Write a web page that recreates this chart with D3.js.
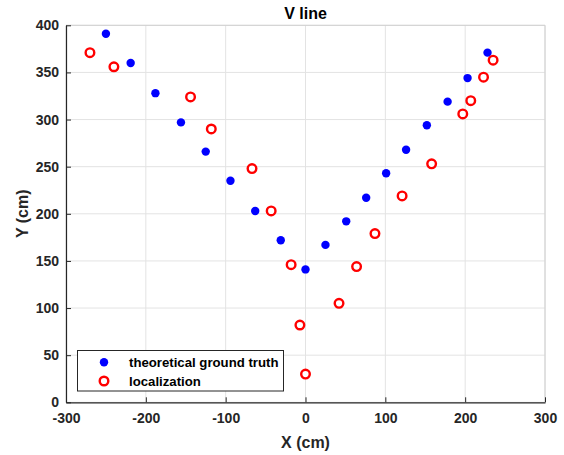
<!DOCTYPE html>
<html><head><meta charset="utf-8">
<script src="https://cdn.jsdelivr.net/npm/d3@7"></script>
<style>body{margin:0;background:#fff}svg{display:block}text{font-family:Arial,"Liberation Sans",Helvetica,sans-serif}</style>
</head><body><svg id="c" width="564" height="455"></svg>
<script>
const truthX = [-250,-219,-188,-156,-125,-94,-63,-31,0,25,51,76,101,126,152,178,203,228];
const truthY = [391,360,328,297,266,235,203,172,141,167,192,217,243,268,294,319,344,371];
const locX = [-270,-240,-144,-118,-67,-43,-18,-7,0,42,64,87,121,158,197,207,223,235];
const locY = [371,356,324,290,248,203,146,82,30,105,144,179,219,253,306,320,345,363];
const xTicks = [-300,-200,-100,0,100,200,300];
const yTicks = [0,50,100,150,200,250,300,350,400];
const seriesNames = ["theoretical ground truth","localization"];

const svg = d3.select("#c");
const L=66, R=545, T=25.3, B=402.3;
const x = d3.scaleLinear().domain([-300,300]).range([L,R]);
const y = d3.scaleLinear().domain([0,400]).range([B,T]);
const axisCol="#262626", gridCol="#e3e3e3";

// grid
svg.append("g").selectAll("line").data(xTicks).join("line")
  .attr("x1",d=>x(d)).attr("x2",d=>x(d)).attr("y1",T).attr("y2",B)
  .attr("stroke",gridCol).attr("stroke-width",1);
svg.append("g").selectAll("line").data(yTicks).join("line")
  .attr("x1",L).attr("x2",R).attr("y1",d=>y(d)).attr("y2",d=>y(d))
  .attr("stroke",gridCol).attr("stroke-width",1);
// top/right light box
svg.append("line").attr("x1",L).attr("x2",R).attr("y1",T).attr("y2",T).attr("stroke","#d0d0d0");
svg.append("line").attr("x1",R).attr("x2",R).attr("y1",T).attr("y2",B).attr("stroke","#d0d0d0");

// axes
const fmt = d => String(d);
const xAxis = svg.append("g").attr("transform",`translate(0,${B})`)
  .call(d3.axisBottom(x).tickValues(xTicks).tickFormat(fmt).tickSizeInner(-5).tickSizeOuter(0).tickPadding(11));
const yAxis = svg.append("g").attr("transform",`translate(${L},0)`)
  .call(d3.axisLeft(y).tickValues(yTicks).tickFormat(fmt).tickSizeInner(-5).tickSizeOuter(0).tickPadding(7));
[xAxis,yAxis].forEach(g=>{
  g.select(".domain").attr("stroke",axisCol).attr("stroke-width",1.2);
  g.selectAll(".tick line").attr("stroke",axisCol);
  g.selectAll(".tick text").attr("fill",axisCol).attr("font-size",14).attr("font-weight","bold");
});

// data
svg.append("g").selectAll("circle").data(truthX.map((d,i)=>[d,truthY[i]])).join("circle")
  .attr("cx",d=>x(d[0])).attr("cy",d=>y(d[1])).attr("r",4.2).attr("fill","#0000ff");
svg.append("g").selectAll("circle").data(locX.map((d,i)=>[d,locY[i]])).join("circle")
  .attr("cx",d=>x(d[0])).attr("cy",d=>y(d[1])).attr("r",4.3).attr("fill","#fff")
  .attr("stroke","#ff0000").attr("stroke-width",2.4);

// title & labels
svg.append("text").attr("x",305.5).attr("y",18.5).attr("text-anchor","middle")
  .attr("font-size",16).attr("font-weight","bold").attr("fill","#000").text("V line");
svg.append("text").attr("x",305.5).attr("y",448).attr("text-anchor","middle")
  .attr("font-size",16).attr("font-weight","bold").attr("fill",axisCol).text("X (cm)");
svg.append("text").attr("transform",`translate(27.5,${(T+B)/2}) rotate(-90)`).attr("text-anchor","middle")
  .attr("font-size",16).attr("font-weight","bold").attr("fill",axisCol).text("Y (cm)");

// legend
const lg = svg.append("g");
lg.append("rect").attr("x",77.5).attr("y",350.5).attr("width",206).attr("height",40.5)
  .attr("fill","#fff").attr("stroke",axisCol).attr("stroke-width",1);
lg.append("circle").attr("cx",104).attr("cy",362.3).attr("r",4.2).attr("fill","#0000ff");
lg.append("circle").attr("cx",104).attr("cy",381).attr("r",4.3).attr("fill","#fff").attr("stroke","#ff0000").attr("stroke-width",2.4);
lg.selectAll("text").data(seriesNames).join("text")
  .attr("x",129).attr("y",(d,i)=>[362.3,381][i]+4.6)
  .attr("font-size",13.2).attr("font-weight","bold").attr("fill","#000").text(d=>d);
</script></body></html>
